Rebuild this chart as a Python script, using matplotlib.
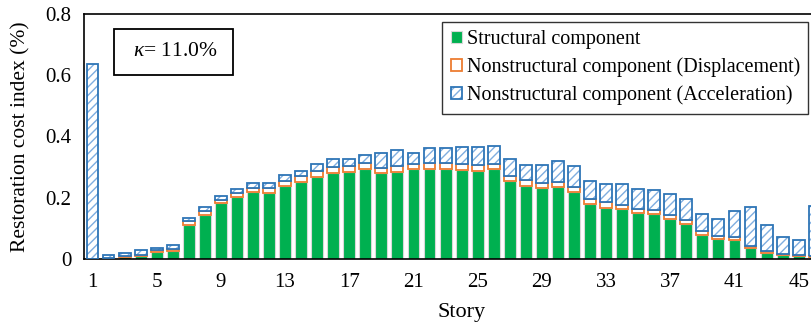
import matplotlib
matplotlib.use("Agg")
import matplotlib.pyplot as plt
import numpy as np
from matplotlib.patches import Rectangle

plt.rcParams['font.family'] = ['Liberation Serif', 'DejaVu Serif']
plt.rcParams['mathtext.fontset'] = 'custom'
plt.rcParams['mathtext.rm'] = 'Liberation Serif'
plt.rcParams['mathtext.it'] = 'Liberation Serif:italic'
plt.rcParams['hatch.linewidth'] = 1.0

stories = list(range(1, 47))
structural = [0.000, 0.000, 0.004, 0.009, 0.021, 0.025, 0.110, 0.144, 0.181, 0.202,
              0.219, 0.216, 0.237, 0.250, 0.268, 0.281, 0.283, 0.294, 0.281, 0.283,
              0.293, 0.294, 0.294, 0.291, 0.288, 0.292, 0.253, 0.239, 0.230, 0.233,
              0.217, 0.178, 0.167, 0.163, 0.150, 0.147, 0.130, 0.115, 0.078, 0.063,
              0.062, 0.034, 0.019, 0.012, 0.008, 0.006]
ns_displacement = [0.000, 0.002, 0.004, 0.004, 0.006, 0.008, 0.012, 0.012, 0.011, 0.012,
                   0.013, 0.014, 0.018, 0.019, 0.019, 0.020, 0.019, 0.020, 0.017, 0.020,
                   0.017, 0.018, 0.018, 0.019, 0.020, 0.019, 0.017, 0.017, 0.019, 0.019,
                   0.019, 0.017, 0.017, 0.013, 0.013, 0.013, 0.013, 0.011, 0.011, 0.010,
                   0.008, 0.007, 0.005, 0.004, 0.004, 0.004]
ns_acceleration = [0.636, 0.011, 0.012, 0.014, 0.009, 0.012, 0.011, 0.012, 0.014, 0.015,
                   0.016, 0.016, 0.019, 0.019, 0.023, 0.025, 0.024, 0.026, 0.049, 0.051,
                   0.037, 0.049, 0.051, 0.054, 0.056, 0.057, 0.057, 0.050, 0.056, 0.069,
                   0.067, 0.060, 0.061, 0.069, 0.064, 0.064, 0.070, 0.070, 0.056, 0.058,
                   0.085, 0.128, 0.086, 0.054, 0.049, 0.163]
x_ticks = list(range(1, 47, 4))
y_ticks = [0, 0.2, 0.4, 0.6, 0.8]
y_tick_labels = ["0", "0.2", "0.4", "0.6", "0.8"]

labels = ["Structural component",
          "Nonstructural component (Displacement)",
          "Nonstructural component (Acceleration)"]

GREEN = "#00B050"
ORANGE = "#ED7D31"
BLUE = "#2E75B6"
LIGHT_BLUE = "#7FAEE0"

FS = 15

fig = plt.figure(figsize=(8.12, 3.26), dpi=100)
ax = fig.add_axes([0.1034, 0.2064, 0.9296, 0.7506])

x = np.array(stories)
s = np.array(structural)
d = np.array(ns_displacement)
a = np.array(ns_acceleration)
w = 0.74

b1 = ax.bar(x, s, width=w, color=GREEN, edgecolor="#D8D8D8", linewidth=0.8, zorder=2)
b2 = ax.bar(x, d, width=w, bottom=s, color="white", edgecolor=ORANGE, linewidth=1.3, zorder=2)
b3h = ax.bar(x, a, width=w, bottom=s + d, color="white", edgecolor=LIGHT_BLUE,
             linewidth=0, hatch="////", zorder=2)
b3e = ax.bar(x, a, width=w, bottom=s + d, fill=False, edgecolor=BLUE, linewidth=1.3, zorder=3)

ax.set_xlim(0.47, 47.5)
ax.set_ylim(0, 0.8)
ax.set_xticks(x_ticks)
ax.set_xticklabels([str(t) for t in x_ticks])
ax.set_yticks(y_ticks)
ax.set_yticklabels(y_tick_labels)
ax.tick_params(axis="both", length=0, labelsize=FS)
ax.tick_params(axis="x", pad=10)
ax.tick_params(axis="y", pad=9)
for sp in ax.spines.values():
    sp.set_linewidth(1.2)
    sp.set_color("black")

ax.set_xlabel("Story", fontsize=FS + 1, labelpad=8)
ax.set_ylabel("Restoration cost index (%)", fontsize=FS + 0.5, labelpad=11)

# kappa annotation box
fig.patches.append(Rectangle((0.1404, 0.770), 0.1466, 0.1411, transform=fig.transFigure,
                             facecolor="white", edgecolor="black", linewidth=1.3,
                             zorder=5))
fig.text(0.2155, 0.8405, r"$\kappa$= 11.0%", fontsize=FS + 0.5, ha="center",
         va="center", zorder=6)

leg = fig.legend([b1, b2, (b3h, b3e)], labels, loc="upper right",
                 bbox_to_anchor=(0.995, 0.9325), bbox_transform=fig.transFigure,
                 fontsize=14.5, frameon=True, fancybox=False, edgecolor="black",
                 handlelength=0.55, handleheight=0.55, handletextpad=0.25,
                 labelspacing=0.42, borderpad=0.4, borderaxespad=0)
leg.get_frame().set_linewidth(1.0)

fig.savefig("out.png", dpi=100)
